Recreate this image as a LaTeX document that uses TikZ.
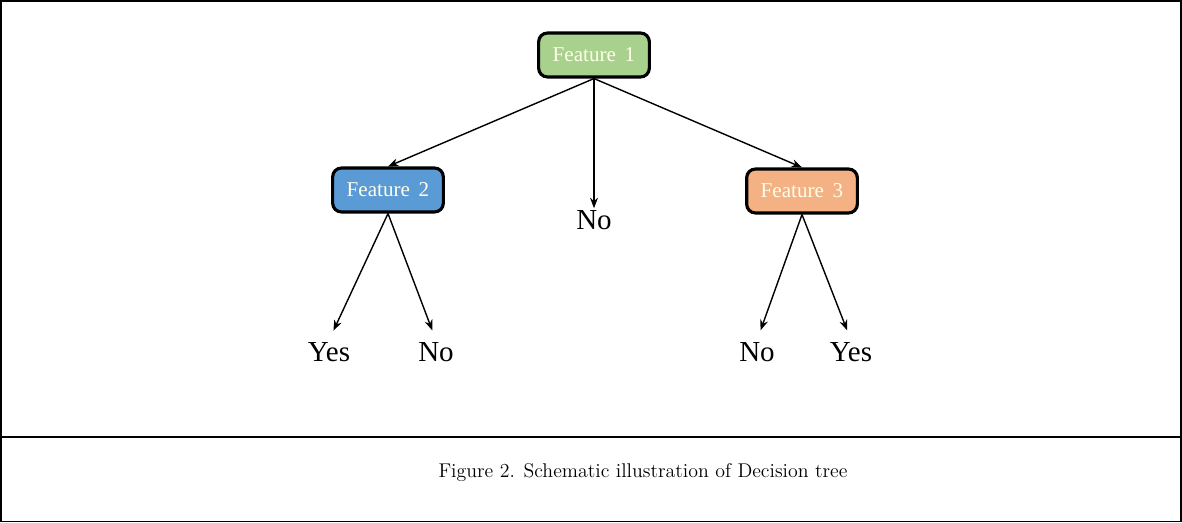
\documentclass[tikz,border=0pt]{standalone}
\usepackage{fontspec}
\setmainfont{Liberation Serif}
\newfontfamily\capfont{Latin Modern Roman}
\usetikzlibrary{arrows.meta}
\definecolor{featgreen}{HTML}{A9D18E}
\definecolor{featblue}{HTML}{5B9BD5}
\definecolor{featorange}{HTML}{F4B183}
\tikzstyle{feature}=[draw, line width=1.8pt, rounded corners=5pt, minimum width=63pt, minimum height=25pt, inner sep=0pt, text=white!92!yellow, font=\fontsize{12}{13}\selectfont]
\tikzstyle{leaf}=[inner sep=1pt, font=\fontsize{16.5}{18}\selectfont]
\tikzstyle{branch}=[line width=0.8pt, -{Stealth[length=6pt, width=4.5pt]}]

\begin{document}
\begin{tikzpicture}[x=0.02cm, y=-0.02cm]
        \useasboundingbox (0, 0) rectangle (1182, 523);
        \draw[line width=1.1pt] (1, 1) rectangle (1181, 521.5);
        \draw[line width=1.1pt] (1, 437) -- (1181, 437);
        \node[feature, fill=featgreen] (feat1) at (594, 55) {Feature\, 1};
        \node[feature, fill=featblue] (feat2) at (388, 190) {Feature\, 2};
        \node[feature, fill=featorange] (feat3) at (802, 191) {Feature\, 3};
        \node[leaf] (no1) at (594, 220) {No};
        \node[leaf] (yes2) at (329, 352) {Yes};
        \node[leaf] (no2) at (436, 352) {No};
        \node[leaf] (no3) at (757, 352) {No};
        \node[leaf] (yes3) at (851, 352) {Yes};
        \draw[branch] (feat1.south) -- (feat2.north);
        \draw[branch] (feat1.south) -- (no1.north);
        \draw[branch] (feat1.south) -- (feat3.north);
        \draw[branch, shorten >=6pt] (feat2.south) -- (yes2.north);
        \draw[branch, shorten >=6pt] (feat2.south) -- (no2.north);
        \draw[branch, shorten >=6pt] (feat3.south) -- (no3.north);
        \draw[branch, shorten >=6pt] (feat3.south) -- (yes3.north);
        \node[font=\capfont\fontsize{11.3}{13}\selectfont] (caption) at (643, 473) {Figure 2. Schematic illustration of Decision tree};
    \end{tikzpicture}
\end{document}
